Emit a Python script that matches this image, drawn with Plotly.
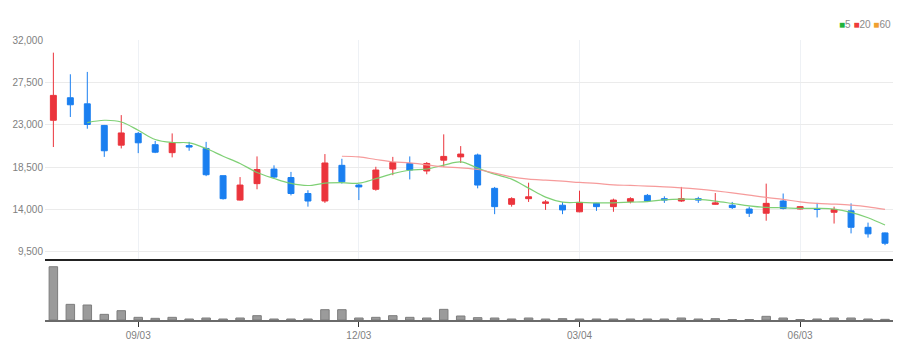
import plotly.graph_objects as go
import pandas as pd

# ---- data (weekly candles) ----
dates = pd.date_range("2018-07-30", periods=50, freq="7D")

opens = [23500, 25900, 25250, 22950, 20850, 22100, 20900, 20050, 20800, 20500,
         17600, 15000, 16750, 18300, 17400, 15700, 14900, 18700, 16600, 16150,
         18300, 18900, 18100, 19250, 19600, 19800, 16250, 14550, 15150, 14650,
         14450, 13750, 14650, 14300, 14850, 15500, 15150, 14900, 15150, 14550,
         14450, 14050, 13600, 14900, 14050, 14100, 13700, 13850, 12100, 11500]
highs = [30700, 28400, 28650, 23000, 24050, 22250, 21300, 22100, 21200, 21200,
         17600, 17450, 19650, 18700, 18000, 16050, 19900, 19400, 16700, 18550,
         19600, 19650, 19050, 22000, 20750, 19950, 16400, 15300, 16850, 15000,
         14800, 16000, 14700, 15150, 15300, 15650, 15400, 16400, 15350, 15750,
         14800, 14300, 16750, 15700, 14350, 14700, 14300, 14650, 12600, 11550]
lows = [20650, 23850, 22600, 19600, 20500, 20000, 20000, 19550, 20250, 17550,
        15050, 14950, 16150, 17350, 15500, 14300, 14700, 16750, 15000, 16000,
        17650, 17200, 17750, 18550, 18950, 16250, 13500, 14300, 14800, 13950,
        13500, 13700, 13850, 13750, 14650, 14800, 14700, 14800, 14700, 14500,
        14050, 13200, 12800, 14000, 14000, 13150, 12500, 11450, 11000, 10200]
closes = [26150, 25150, 23050, 20250, 22150, 21100, 20100, 21100, 20650, 17700,
          15150, 16600, 18250, 17450, 15700, 14900, 18950, 16950, 16400, 18200,
          19000, 18200, 18900, 19650, 19900, 16600, 14300, 15150, 15350, 14800,
          13950, 14750, 14300, 15000, 15150, 14900, 15000, 15150, 15000, 14700,
          14200, 13600, 14650, 14100, 14300, 14000, 14000, 12100, 11400, 10400]
volumes = [1600000, 470000, 450000, 170000, 280000, 80000, 50000, 80000, 30000, 60000,
           30000, 60000, 130000, 30000, 30000, 30000, 310000, 310000, 60000, 80000,
           130000, 80000, 60000, 320000, 120000, 70000, 60000, 30000, 60000, 30000,
           40000, 30000, 30000, 30000, 30000, 30000, 30000, 60000, 30000, 40000,
           15000, 15000, 110000, 60000, 15000, 30000, 60000, 60000, 30000, 20000]
ma5 = [None, None, 23250, 23500, 23320, 22430, 21450, 21130, 21090, 20490,
       19670, 18900, 17940, 17300, 16770, 16550, 16800, 16850, 16800, 17280,
       17810, 18180, 18310, 18715, 19065, 18400, 17760, 17230, 16270, 15310,
       14780, 14750, 14710, 14710, 14780, 14835, 15030, 15100, 15065, 14890,
       14645, 14390, 14220, 14180, 14115, 14115, 14040, 13690, 13115, 12340]
ma20 = [None] * 17 + [
       19670, 19600, 19320, 19065, 18960, 18750, 18535, 18430, 18260, 17865,
       17470, 17230, 17120, 17015, 16875, 16770, 16620, 16560, 16485, 16410,
       16305, 16165, 15985, 15770, 15525, 15280, 15070, 14815, 14645, 14570,
       14465, 14285, 14005]

tick_dates = ["2018-09-03", "2018-12-03", "2019-03-04", "2019-06-03"]
tick_text = ["09/03", "12/03", "03/04", "06/03"]
price_ticks = [9500, 14000, 18500, 23000, 27500, 32000]

RED = "#eb343c"
BLUE = "#1a7ff0"
FONT = "Liberation Sans Narrow, Liberation Sans, Arial, sans-serif"

fig = go.Figure()
fig.add_trace(go.Scatter(x=dates, y=ma5, mode="lines", name="5",
                         line=dict(color="rgba(120,205,110,0.95)", width=1.2, shape="spline"),
                         xaxis="x", yaxis="y", hoverinfo="skip"))
fig.add_trace(go.Scatter(x=dates, y=ma20, mode="lines", name="20",
                         line=dict(color="rgba(245,150,150,0.95)", width=1.2, shape="spline"),
                         xaxis="x", yaxis="y", hoverinfo="skip"))
fig.add_trace(go.Candlestick(x=dates, open=opens, high=highs, low=lows, close=closes,
                             increasing=dict(line=dict(color=RED, width=1), fillcolor=RED),
                             decreasing=dict(line=dict(color=BLUE, width=1), fillcolor=BLUE),
                             whiskerwidth=0, xaxis="x", yaxis="y", showlegend=False))
fig.add_trace(go.Bar(x=dates, y=volumes, width=3.5 * 86400000,
                     marker=dict(color="#9b9b9b", line=dict(color="#7d7d7d", width=1)),
                     xaxis="x2", yaxis="y2", showlegend=False))

x0 = dates[0] - pd.Timedelta(days=3.45)
x1 = dates[-1] + pd.Timedelta(days=3.3)

fig.update_layout(
    width=904, height=352,
    margin=dict(l=37, r=19, t=32, b=40, autoexpand=False),
    paper_bgcolor="white", plot_bgcolor="white",
    showlegend=False,
    boxgap=0.5,
    font=dict(family=FONT, size=10, color="#808080"),
    xaxis=dict(domain=[0, 1], anchor="y", type="date", range=[x0, x1],
               tickvals=tick_dates, ticktext=tick_text, showticklabels=False,
               ticks="", showgrid=True, gridcolor="#eef1f5", gridwidth=1,
               showline=True, linecolor="#222222", linewidth=2, zeroline=False,
               automargin=False, rangeslider=dict(visible=False)),
    yaxis=dict(domain=[0.2179, 1], anchor="x", range=[8725, 32050],
               tickvals=price_ticks, tickformat=",", showgrid=True,
               gridcolor="#ebebeb", gridwidth=1, zeroline=False, showline=False,
               ticks="", automargin=False, ticklabelstandoff=1,
               tickfont=dict(size=10, color="#808080")),
    xaxis2=dict(domain=[0, 1], anchor="y2", type="date", matches="x",
                tickvals=tick_dates, ticktext=tick_text, ticks="outside",
                ticklen=5, tickcolor="#333333", tickwidth=1, showgrid=False,
                showline=True, linecolor="#6a6a6a", linewidth=2, zeroline=False,
                automargin=False, tickfont=dict(size=10, color="#808080")),
    yaxis2=dict(domain=[0, 0.2107], anchor="x2", range=[0, 1772000],
                visible=False, showgrid=False, zeroline=False),
)

fig.add_annotation(
    xref="paper", yref="paper", x=1.0, y=1.057, xanchor="right", yanchor="middle",
    showarrow=False, font=dict(family=FONT, size=10, color="#8a8a8a"),
    text=("<span style='color:#22b33a'>■</span>5 "
          "<span style='color:#ee3b3b'>■</span>20 "
          "<span style='color:#f0a030'>■</span>60"))

fig.write_html("out.html")
